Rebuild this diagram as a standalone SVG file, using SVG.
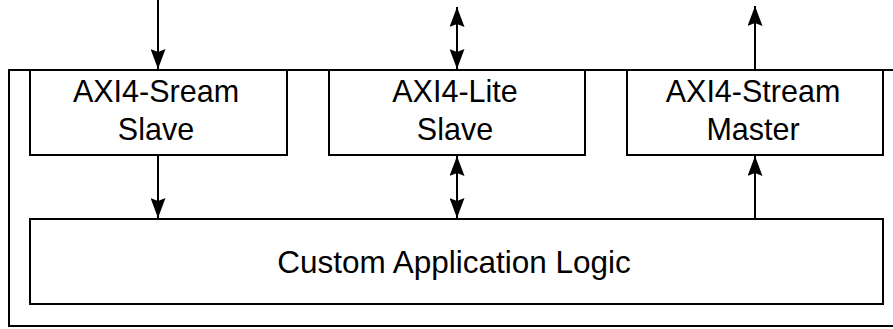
<svg xmlns="http://www.w3.org/2000/svg" width="893" height="329" viewBox="0 0 893 329">
<style>
.box{fill:#fff;stroke:#000;stroke-width:2}
.outer{fill:none;stroke:#000;stroke-width:2}
.lbl{font-family:"Liberation Sans",Arial,Helvetica,sans-serif;font-size:30.5px;fill:#000;text-anchor:middle}
.big{font-size:31.5px}
.con{stroke:#000;stroke-width:2;fill:none}
</style>
<defs>
<marker id="ah" markerUnits="userSpaceOnUse" markerWidth="20" markerHeight="15" viewBox="0 0 20 15" refX="20" refY="7.5" orient="auto-start-reverse">
<path d="M0,0 L20,7.5 L0,15 L3,7.5 Z" fill="#000"/>
</marker>
</defs>
<g id="container">
<rect class="outer" x="9" y="70" width="892" height="256"/>
</g>
<g id="axis-slave">
<rect class="box" x="30" y="70" width="257" height="85"/>
<text class="lbl" x="156" y="102">AXI4-Sream</text>
<text class="lbl" x="156" y="140">Slave</text>
</g>
<g id="axil-slave">
<rect class="box" x="329" y="70" width="256" height="85"/>
<text class="lbl" x="455" y="102">AXI4-Lite</text>
<text class="lbl" x="455" y="140">Slave</text>
</g>
<g id="axis-master">
<rect class="box" x="627" y="70" width="256" height="85"/>
<text class="lbl" x="753" y="102">AXI4-Stream</text>
<text class="lbl" x="753" y="140">Master</text>
</g>
<g id="custom-logic">
<rect class="box" x="30" y="219" width="853" height="85"/>
<text class="lbl big" x="454" y="273">Custom Application Logic</text>
</g>
<g id="connectors">
<line class="con" x1="158" y1="0" x2="158" y2="69" marker-end="url(#ah)"/>
<line class="con" x1="158" y1="155" x2="158" y2="218" marker-end="url(#ah)"/>
<line class="con" x1="457" y1="7" x2="457" y2="69" marker-start="url(#ah)" marker-end="url(#ah)"/>
<line class="con" x1="457" y1="156" x2="457" y2="218" marker-start="url(#ah)" marker-end="url(#ah)"/>
<line class="con" x1="755" y1="70" x2="755" y2="6" marker-end="url(#ah)"/>
<line class="con" x1="755" y1="218" x2="755" y2="156" marker-end="url(#ah)"/>
</g>
</svg>
